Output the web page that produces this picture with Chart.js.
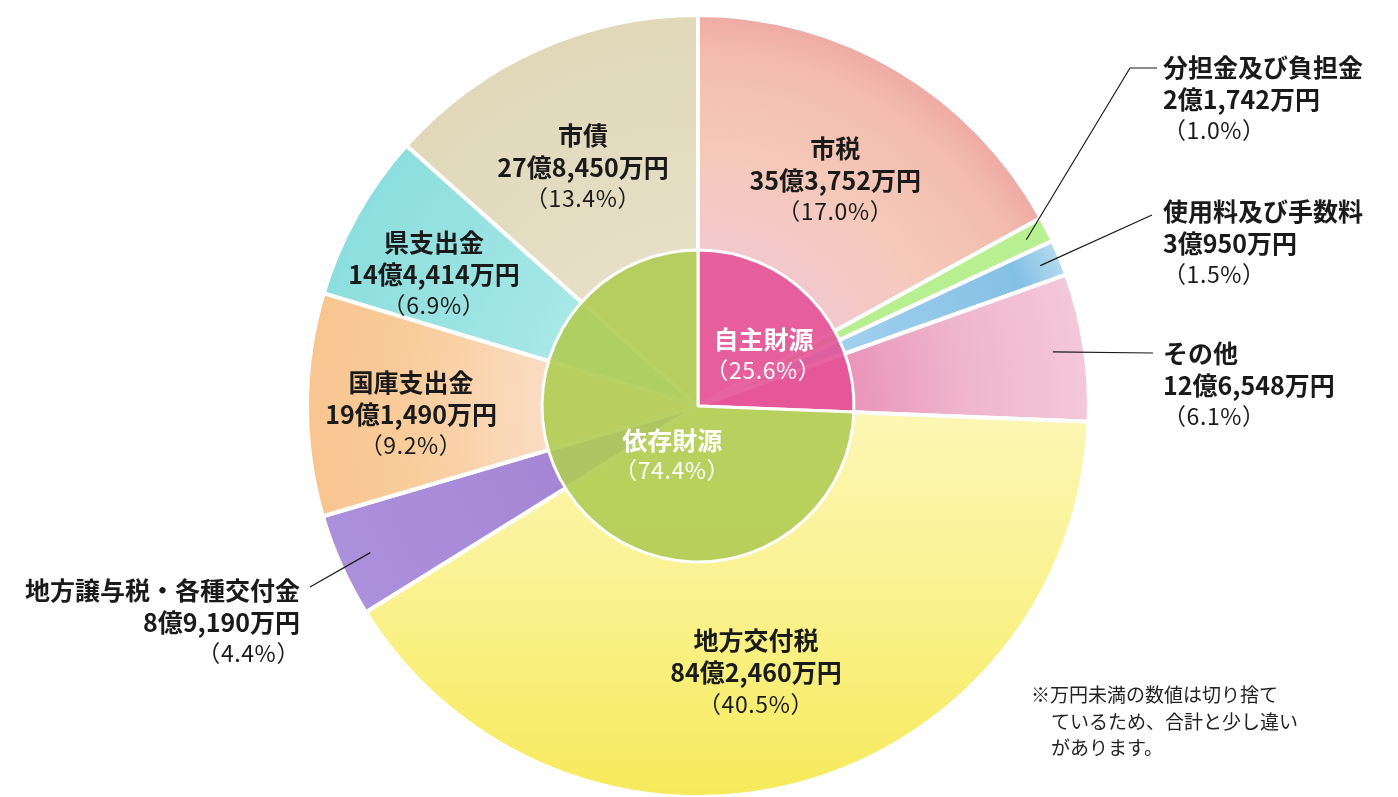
<!DOCTYPE html>
<html><head><meta charset="utf-8">
<script src="https://cdn.jsdelivr.net/npm/chart.js@4.4.0/dist/chart.umd.min.js"></script>
<style>
html,body{margin:0;padding:0;background:#fff;width:1398px;height:797px;overflow:hidden}
.wrap{position:absolute;left:0;top:0;width:1398px;height:797px}
</style></head><body>
<div class="wrap"><canvas id="outer"></canvas></div>
<div class="wrap"><canvas id="inner"></canvas></div>
<script>
// ---- data ----
const categories = ['市税','分担金及び負担金','使用料及び手数料','その他','地方交付税','地方譲与税・各種交付金','国庫支出金','県支出金','市債'];
const amounts = [353752, 21742, 30950, 126548, 842460, 89190, 191490, 144414, 278450]; // 万円
const amountLabels = ['35億3,752万円','2億1,742万円','3億950万円','12億6,548万円','84億2,460万円','8億9,190万円','19億1,490万円','14億4,414万円','27億8,450万円'];
const percentLabels = ['17.0%','1.0%','1.5%','6.1%','40.5%','4.4%','9.2%','6.9%','13.4%'];
const groupNames = ['自主財源','依存財源'];
const groupPercents = [25.6, 74.4];
const noteLines = ['※万円未満の数値は切り捨て','ているため、合計と少し違い','があります。'];

// ---- style ----
const sliceStops = [
  [[0.40,'#f3c8cd'],[0.65,'#f5c9b9'],[0.90,'#f3bcae'],[1,'#eeaaa4']],
  [[0,'#b6ef8d'],[1,'#b8f092']],
  [[0.40,'#a0d0ee'],[0.88,'#84c0e5'],[1,'#b4daee']],
  [[0.40,'#ea95ba'],[0.70,'#efb7cd'],[1,'#f3c8d8']],
  null,
  [[0.40,'#a586d6'],[1,'#ab90dc']],
  [[0.40,'#fbdcc2'],[0.75,'#f9cc9a'],[1,'#f8c590']],
  [[0.40,'#a6e8e6'],[0.80,'#94e1e0'],[1,'#8cdede']],
  [[0.40,'#e6dfc6'],[1,'#e1d8ba']]
];
const yellowStops = [[0,'#fbf6b2'],[0.45,'#faf290'],[1,'#f6ea5a']];
const groupColors = ['rgba(228,78,148,0.88)','rgba(176,204,84,0.9)'];
const FONT = "'Noto Sans CJK JP','Noto Sans',sans-serif";
const CX = 698, CY = 406, R_OUT = 391, R_IN = 156;
const pad = {left: CX - R_OUT, right: 1398 - (CX + R_OUT), top: CY - R_OUT, bottom: 797 - (CY + R_OUT)};

const labelLayout = [
  {type:'in', dA:0.7, r:264},
  {type:'out', lineR:368, path:[[1130,68],[1157,68]], tx:1163, ty:67, align:'left'},
  {type:'out', lineR:370, path:[[1152,215]], tx:1163, ty:211, align:'left'},
  {type:'out', lineR:359, path:[[1153,353]], tx:1163, ty:353, align:'left'},
  {type:'in', dA:2.5, r:273},
  {type:'out', lineR:359, path:[[310,587]], tx:300, ty:590, align:'right'},
  {type:'in', dA:-1.8, r:287},
  {type:'in', dA:-2.8, r:295},
  {type:'in', dA:-1.6, r:265}
];
const groupLayout = [{dA:5.9, r:83},{dA:-18.6, r:56}];

const deg = Math.PI/180;
function pt(x, y, a, r){ return [x + r*Math.cos(a), y + r*Math.sin(a)]; }

function sliceFill(c){
  const chart = c.chart;
  const i = c.dataIndex;
  if (!chart.chartArea) return '#eee';
  const g2 = chart.ctx;
  let g;
  let stops;
  if (i === 4) {
    g = g2.createLinearGradient(0, CY + 20, 0, CY + R_OUT);
    stops = yellowStops;
  } else {
    g = g2.createRadialGradient(CX, CY, 0, CX, CY, R_OUT);
    stops = sliceStops[i];
  }
  stops.forEach(s => g.addColorStop(s[0], s[1]));
  return g;
}

const outerLabels = {
  id:'outerLabels',
  afterDatasetsDraw(chart){
    const ctx = chart.ctx;
    const arcs = chart.getDatasetMeta(0).data;
    ctx.save();
    ctx.textBaseline = 'middle';
    ctx.fillStyle = '#1a1a1a';
    arcs.forEach((arc, i) => {
      const p = arc.getProps(['x','y','startAngle','endAngle'], true);
      const mid = (p.startAngle + p.endAngle)/2;
      const L = labelLayout[i];
      const lines = [categories[i], amountLabels[i], '（' + percentLabels[i] + '）'];
      let x, y0, align;
      if (L.type === 'in') {
        const c = pt(p.x, p.y, mid + L.dA*deg, L.r);
        x = c[0]; y0 = c[1] - 32; align = 'center';
      } else {
        const s = pt(p.x, p.y, mid, L.lineR);
        ctx.beginPath();
        ctx.moveTo(s[0], s[1]);
        L.path.forEach(q => ctx.lineTo(q[0], q[1]));
        ctx.strokeStyle = '#1a1a1a';
        ctx.lineWidth = 1.2;
        ctx.stroke();
        x = L.tx; y0 = L.ty; align = L.align;
      }
      ctx.textAlign = align;
      ctx.letterSpacing = '0px';
      ctx.font = 'bold 25px ' + FONT;
      ctx.fillText(lines[0], x, y0);
      ctx.fillText(lines[1], x, y0 + 32);
      ctx.font = '23px ' + FONT;
      ctx.letterSpacing = '0.6px';
      ctx.fillText(lines[2], x, y0 + 63);
    });
    ctx.restore();
  }
};

const innerLabels = {
  id:'innerLabels',
  afterDatasetsDraw(chart){
    const ctx = chart.ctx;
    const arcs = chart.getDatasetMeta(0).data;
    ctx.save();
    ctx.textBaseline = 'middle';
    ctx.textAlign = 'center';
    ctx.fillStyle = '#ffffff';
    arcs.forEach((arc, i) => {
      const p = arc.getProps(['x','y','startAngle','endAngle'], true);
      const mid = (p.startAngle + p.endAngle)/2;
      const c = pt(p.x, p.y, mid + groupLayout[i].dA*deg, groupLayout[i].r);
      ctx.letterSpacing = '0px';
      ctx.font = 'bold 25px ' + FONT;
      ctx.fillText(groupNames[i], c[0], c[1] - 15);
      ctx.letterSpacing = '0.6px';
      ctx.font = '23px ' + FONT;
      ctx.fillText('（' + groupPercents[i].toFixed(1) + '%）', c[0], c[1] + 15);
    });
    // note
    ctx.letterSpacing = '0px';
    ctx.fillStyle = '#222';
    ctx.textAlign = 'left';
    ctx.font = '19px ' + FONT;
    ctx.fillText(noteLines[0], 1031, 695);
    ctx.fillText(noteLines[1], 1051, 722);
    ctx.fillText(noteLines[2], 1051, 748);
    ctx.restore();
  }
};

const common = {
  responsive: true,
  maintainAspectRatio: false,
  animation: false,
  events: [],
  layout: {padding: pad},
  plugins: {legend:{display:false}, tooltip:{enabled:false}}
};

new Chart(document.getElementById('outer'), {
  type: 'pie',
  data: {labels: categories, datasets: [{data: amounts, backgroundColor: sliceFill, borderColor:'#fff', borderWidth:4, hoverOffset:0}]},
  options: Object.assign({}, common, {radius: R_OUT}),
  plugins: [outerLabels]
});

new Chart(document.getElementById('inner'), {
  type: 'pie',
  data: {labels: groupNames, datasets: [{data: groupPercents, backgroundColor: groupColors, borderColor:'#fff', borderWidth:3, hoverOffset:0}]},
  options: Object.assign({}, common, {radius: R_IN}),
  plugins: [innerLabels]
});
</script>
</body></html>
